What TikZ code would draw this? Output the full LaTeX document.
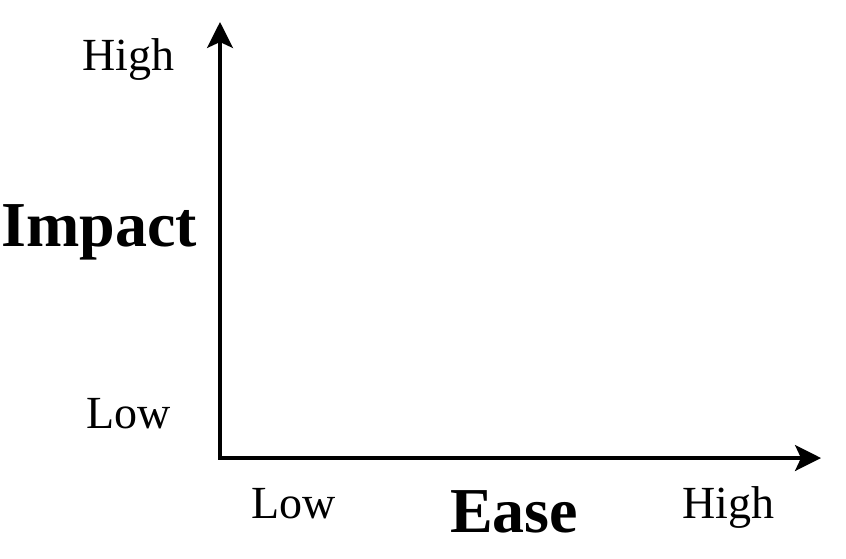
\documentclass[tikz,border=0pt]{standalone}
\usepackage{fontspec}
\setmainfont{Liberation Serif}
\usetikzlibrary{arrows.meta}
\begin{document}
\begin{tikzpicture}[x=1pt,y=-1pt,
  lbl/.style={inner sep=0pt, anchor=base, font=\fontsize{46}{50}\selectfont},
  ttl/.style={inner sep=0pt, anchor=base, font=\fontsize{64}{70}\selectfont\bfseries},
  axis/.style={line width=3.2pt, -{Stealth[length=26pt,width=26pt,inset=6pt]}}]
\useasboundingbox (0,0) rectangle (846,558);
\coordinate (o) at (220,458);
\coordinate (ytop) at (220,22);
\coordinate (xend) at (821,458);
\draw[axis] ([xshift=-1.6pt]o) -- (xend);
\draw[axis] ([yshift=1.6pt]o) -- (ytop);
\node[lbl] (yhigh) at (128.5,70) {High};
\node[lbl] (ylow) at (128.5,428) {Low};
\node[lbl] (xlow) at (293.5,518) {Low};
\node[lbl] (xhigh) at (728.5,518) {High};
\node[ttl] (impact) at (99,246) {Impact};
\node[ttl] (ease) at (514,532) {Ease};
\end{tikzpicture}
\end{document}
